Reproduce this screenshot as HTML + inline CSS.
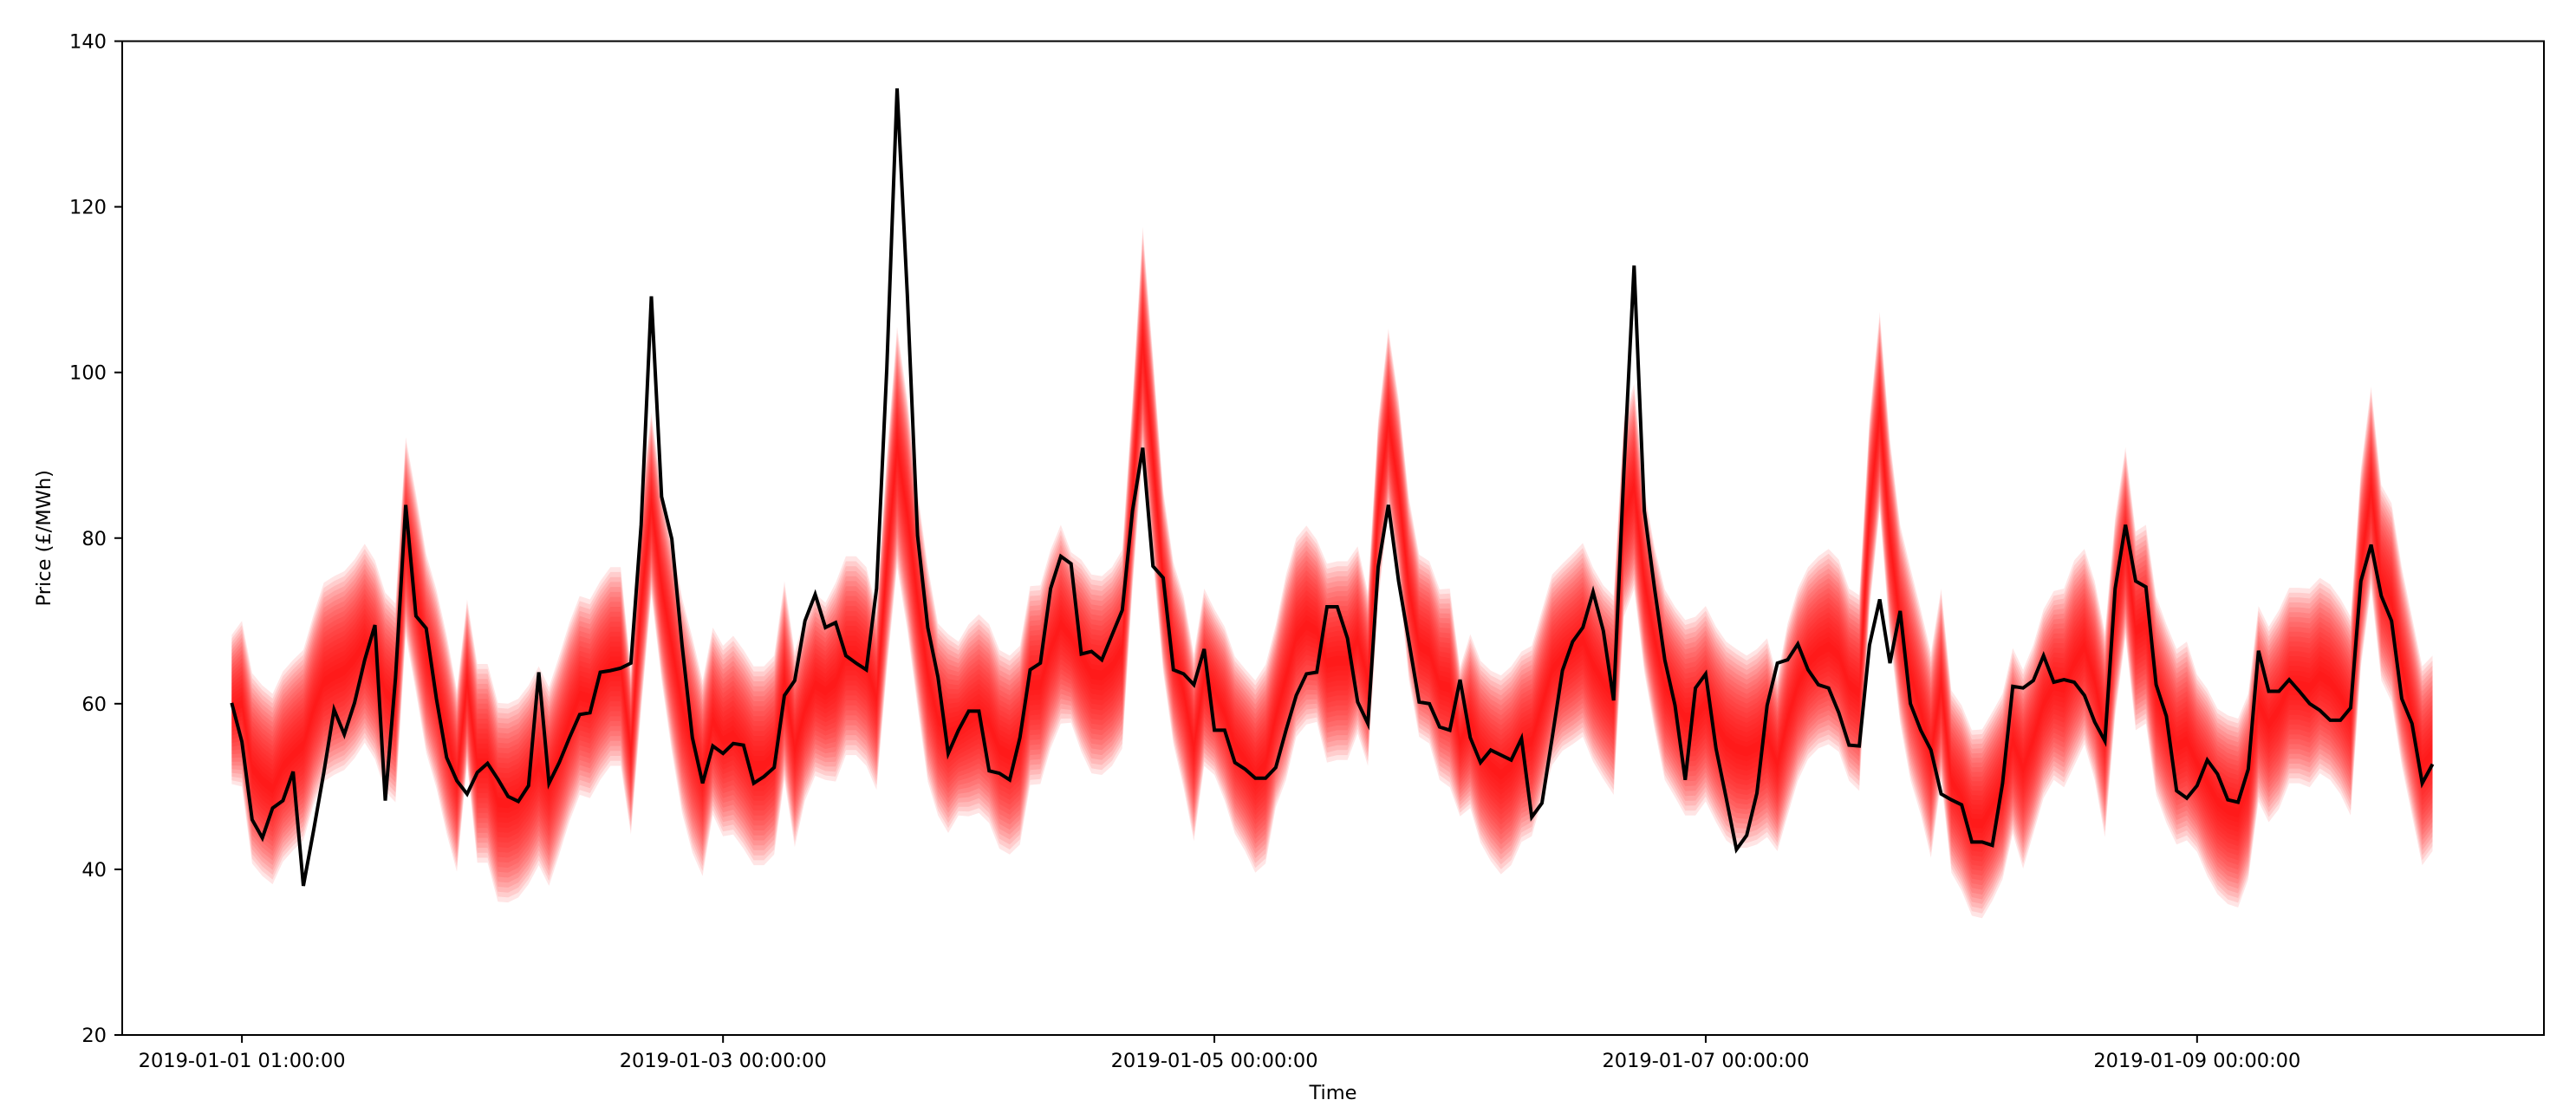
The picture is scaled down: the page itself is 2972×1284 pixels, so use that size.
<!DOCTYPE html>
<html><head><meta charset="utf-8"><style>
html,body{margin:0;padding:0;background:#fff;}
svg{display:block;}
text{font-family:"DejaVu Sans","Liberation Sans",sans-serif;fill:#000;}
</style></head>
<body>
<svg id="chart" width="2972" height="1284" viewBox="0 0 2972 1284" xmlns="http://www.w3.org/2000/svg">
<rect x="0" y="0" width="2972" height="1284" fill="#fff"/>
<g id="fan"></g>
<g id="actual"></g>
<g id="axes"></g>
</svg>
<script>
const actual = [
60.1,55.4,46,43.8,47.4,48.3,51.8,38,44.7,51.7,59.3,56.3,60.1,65.3,69.5,48.3,63.1,84,70.6,69.1,60.6,53.5,50.7,49.1,51.7,52.8,50.9,48.8,
48.2,50.1,63.8,50.4,52.9,55.9,58.7,58.9,63.8,64,64.3,64.9,81.6,109.2,85,79.9,67.1,55.9,50.4,54.9,54,55.2,55,50.4,51.2,52.3,61,
62.8,70,73.2,69.2,69.8,65.8,64.9,64.1,73.9,100.4,134.3,109.4,80.3,69.2,63.2,54,56.8,59.1,59.1,51.9,51.6,50.8,55.9,64.1,64.9,73.9,77.8,
76.9,66,66.3,65.3,68.3,71.3,83.3,90.9,76.6,75.2,64.1,63.6,62.3,66.6,56.8,56.8,52.9,52.1,51,51,52.3,56.8,61,63.6,63.8,71.7,71.7,67.9,
60.2,57.6,76.5,84,74.8,67.5,60.2,60,57.2,56.8,62.9,55.9,52.9,54.4,53.8,53.2,55.8,46.3,48,55.9,64,67.5,69.2,73.5,68.8,60.4,88,
112.9,83.3,73.9,65.3,59.8,50.8,61.9,63.6,54.6,48.6,42.4,44.1,49.2,59.8,64.9,65.3,67.2,64.1,62.3,61.9,58.9,55,54.9,67.1,72.6,64.9,71.2,60,
56.8,54.4,49.1,48.4,47.8,43.3,43.3,42.9,50.4,62.1,61.9,62.8,65.8,62.6,62.9,62.6,61,57.8,55.5,73.9,81.6,74.8,74.1,62.3,58.5,49.5,48.6,
50.1,53.2,51.5,48.4,48.1,52.1,66.4,61.5,61.5,62.9,61.5,60,59.2,58,58,59.5,74.8,79.2,73,70,60.6,57.6,50.4,52.7
];
const forecastMedian = [
59.3,60,52.2,50.7,49.7,52.4,53.8,55,59.3,62.6,63.4,64,65.4,67.3,65.3,61.4,60.1,80.2,73.4,66.1,61.8,56.3,50.7,62.6,52.8,52.8,48.1,48,
48.6,50.2,52.5,50,53.8,57.8,61,60.6,62.8,64.5,64.5,54.2,72.2,84.2,74.3,67,59.8,55,51,57.9,55.5,56.2,54.5,52.5,52.5,53.8,62.8,
54.5,59.3,62.3,61.5,62.6,65.8,65.8,64.5,60.6,76.9,91,82.9,72.6,63.6,58.1,56.4,57,58,58.8,57.6,54.5,53.8,55,62.2,62.3,66.6,69.6,
68,65.8,63.6,63.4,64.5,66.6,85.4,103.9,89.7,74.8,66.1,61.4,54.7,63.2,61.4,58.8,55,53.2,51.2,52.7,58.5,63.2,68,69.5,68.8,64.9,65.2,65.2,
67.7,63,83.3,94.3,85.9,73.9,67,66.2,62.3,61.9,55.4,57.9,54.2,52.5,51.4,52.5,54.8,55.5,59.8,64.1,65.6,66.6,67.7,64.7,62.6,61,82.5,
86.2,74.8,67.9,62.3,60.2,58.3,58.5,60,57.5,55.5,54.6,54.2,54.8,55.9,52.7,58.1,62.3,64.9,66.2,66.9,65.8,62.3,61.3,82.9,95.3,79.9,69.6,63.6,
59,53.8,62.3,50.6,48.6,45.6,45.5,47.6,50,55.5,52.1,55.7,60,62.2,61.9,64.9,66.9,62.8,56.3,70.5,79.5,68.8,69.6,61,57.6,54.8,55.5,
52.8,50.5,48.2,47.2,46.8,50,60,57.5,59.3,62.2,62.2,61.9,63.4,62.6,60.9,58.5,76.4,86.1,74.6,72.2,64.5,58.5,52.5,54
];
const forecastSpread = [
9,10,11.5,11.5,11.5,11.5,11.5,11.5,11.5,12,12,12,
12,12,12,12,12,12,12,12,12,12,11,10,
12,12,12,12,12,12,12,12,12,12,12,12,
12,12,12,10,13,11,11.5,12.8,13,13,11.8,11.3,
11.5,12,12,12,12,12,12,11.8,11,11,10.7,12,
12,12,12,11,13,14.5,14,13,13,11.6,12,10.5,
11.6,12,12,12,12,12,12,12,12,12,10.3,11.6,
12,12,12,12,11.5,13.7,12.4,11,11,11.6,11.3,10.7,
10,10.5,10.7,11,11.6,12,11,12.4,12,12,11,12,
12,12,11.3,10.5,11,11,11,11,11,11,11.5,12,
9,10.5,11,11.5,12,12,11.5,11.5,11.5,11.5,11.3,11.5,
11.7,11.7,11.7,12,12,12.4,11,11,11.5,11.5,11.8,12,
11.8,11.8,12,12,11.6,11.8,12,10.5,11.6,11.6,11.6,11.6,
11.8,11.6,11.6,11.8,11.6,12,12,12,12.8,12.4,12.4,11.6,
11,11.2,11.2,11.4,11.4,11.2,11.2,12,11.4,11.4,11.4,12,
12.4,11.8,12,12.4,12,11.5,12,12,12,12,11.8,12,
10.7,11.3,11.2,11.4,11.4,11.2,11.8,11.8,12,11.8,11.8,12,
11.8,11.8,11.8,12,12,12.2,11.8,12,12,12,12,11.8
];
const yTicks = [20,40,60,80,100,120,140];
const xTickHours = [1,48,96,144,192];
const xTickLabels = ["2019-01-01 01:00:00","2019-01-03 00:00:00","2019-01-05 00:00:00","2019-01-07 00:00:00","2019-01-09 00:00:00"];

const NS="http://www.w3.org/2000/svg";
const PL=141, PR=2935, PT=47.5, PB=1194;
const X0=267.3, PXH=11.81;
function xs(h){return X0+h*PXH;}
function ys(v){return PB-(v-20)*(PB-PT)/120;}
function mk(tag,attrs,parent){const e=document.createElementNS(NS,tag);for(const k in attrs)e.setAttribute(k,attrs[k]);parent.appendChild(e);return e;}

const fan=document.getElementById('fan');
const N=20;
for(let k=0;k<N;k++){
  const f=1-k/N;
  let up=[],lo=[];
  for(let i=0;i<forecastMedian.length;i++){
    up.push(xs(i).toFixed(1)+','+ys(forecastMedian[i]+forecastSpread[i]*f).toFixed(1));
    lo.push(xs(i).toFixed(1)+','+ys(forecastMedian[i]-forecastSpread[i]*f).toFixed(1));
  }
  const p=mk('polygon',{points:up.concat(lo.reverse()).join(' '),fill:'#ff0000','fill-opacity':'0.10',stroke:'none'},fan);
  
  
}
const act=document.getElementById('actual');
const pts=actual.map((v,i)=>xs(i).toFixed(1)+','+ys(v).toFixed(1)).join(' ');
const line=mk('polyline',{points:pts,fill:'none',stroke:'#000','stroke-width':'4','stroke-linejoin':'miter'},act);



const ax=document.getElementById('axes');
const frame=mk('rect',{x:PL,y:PT,width:PR-PL,height:PB-PT,fill:'none',stroke:'#000','stroke-width':'2'},ax);


yTicks.forEach(v=>{
  const t=mk('line',{x1:PL-9,x2:PL,y1:ys(v),y2:ys(v),stroke:'#000','stroke-width':'2'},ax);
  
  
  const l=mk('text',{x:PL-18,y:ys(v)+8,'text-anchor':'end','font-size':'22.5'},ax);
  l.textContent=v;
  
  
});
xTickHours.forEach((h,i)=>{
  const t=mk('line',{x1:xs(h),x2:xs(h),y1:PB,y2:PB+9,stroke:'#000','stroke-width':'2'},ax);
  
  
  const l=mk('text',{x:xs(h),y:1231,'text-anchor':'middle','font-size':'22.5'},ax);
  l.textContent=xTickLabels[i];
  
  
});
const xt=mk('text',{x:(PL+PR)/2,y:1268,'text-anchor':'middle','font-size':'22.5'},ax);
xt.textContent='Time';


const yt=mk('text',{x:0,y:0,'text-anchor':'middle','font-size':'22.5',transform:'translate(58,'+((PT+PB)/2)+') rotate(-90)'},ax);
yt.textContent='Price (£/MWh)';


</script>
</body></html>
